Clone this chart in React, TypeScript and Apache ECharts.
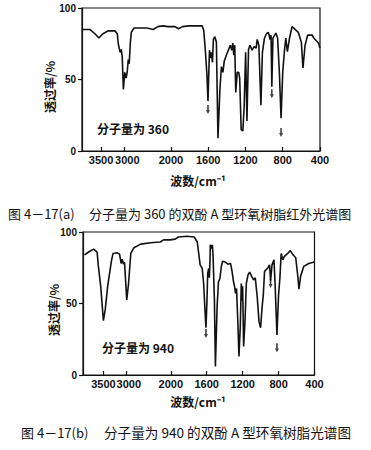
import React, { useEffect, useRef } from "react";
import * as echarts from "echarts";

// wavenumber (cm^-1) tick labels and transmittance ticks
const X_TICKS = [3500, 3000, 2000, 1600, 1200, 800, 400];
const Y_TICKS = [0, 50, 100];

// spectrum (a): molecular weight 360 — [wavenumber, transmittance %]
const specA: [number, number][] = [
  [3905, 85], [3740, 85], [3630, 82], [3545, 79], [3460, 82], [3350, 84], [3200, 84], [3150, 82],
  [3130, 75], [3090, 69], [3065, 71], [3045, 66], [3020, 43], [2990, 55], [2960, 51], [2935, 56],
  [2915, 64], [2895, 61], [2870, 76], [2850, 83], [2790, 86], [2660, 86], [2510, 86], [2380, 85],
  [2280, 87], [2170, 87.5], [2065, 87], [1955, 87], [1920, 85.5], [1875, 87], [1805, 87.5],
  [1725, 87.5], [1665, 87.5], [1648, 84.5], [1630, 70], [1613, 53], [1602, 35], [1591, 60],
  [1586, 70.5], [1576, 65], [1565, 69], [1554, 62], [1544, 78], [1528, 80], [1512, 76], [1495, 9],
  [1474, 43], [1458, 59], [1442, 55], [1427, 63], [1405, 67], [1384, 70.5], [1363, 74], [1347, 70.5],
  [1336, 75.5], [1325, 67], [1315, 74], [1304, 41], [1288, 55], [1272, 55], [1262, 51], [1246, 15],
  [1228, 14], [1214, 31], [1198, 69], [1184, 21], [1167, 71], [1151, 74], [1129, 70.5], [1107, 73],
  [1085, 72], [1074, 78], [1056, 74], [1034, 32], [1018, 69], [996, 79], [974, 82], [953, 83],
  [936, 78], [925, 81], [917, 45], [905, 79], [874, 82.5], [855, 79], [836, 55], [818, 23],
  [800, 55], [783, 69], [767, 79], [750, 69.5], [727, 79], [700, 87], [667, 85], [633, 83],
  [600, 76], [583, 58], [560, 74], [533, 81], [483, 81], [467, 79], [417, 75.5], [400, 72],
];

// spectrum (b): molecular weight 940 — [wavenumber, transmittance %]
const specB: [number, number][] = [
  [3920, 84], [3830, 86], [3715, 88], [3640, 86], [3615, 77], [3560, 62], [3500, 38], [3460, 45.5],
  [3405, 62], [3320, 80], [3285, 85], [3200, 85.5], [3140, 84.5], [3105, 78], [3080, 81], [3055, 77.5],
  [3030, 79], [2980, 52.5], [2940, 64], [2890, 85], [2820, 89], [2670, 91.5], [2450, 92.5], [2235, 93],
  [2160, 94.5], [2015, 94.5], [1950, 95], [1915, 96.5], [1820, 97], [1740, 96.5], [1705, 93],
  [1673, 77], [1650, 74.5], [1634, 64], [1619, 45], [1608, 33], [1597, 52], [1589, 71], [1578, 74.5],
  [1571, 68], [1563, 80], [1560, 91], [1545, 88.5], [1537, 91], [1529, 83], [1514, 52], [1503, 6],
  [1484, 48], [1469, 65], [1453, 67.5], [1438, 75.5], [1424, 79.5], [1394, 79], [1364, 77.5],
  [1335, 78], [1319, 73], [1301, 65], [1290, 62], [1279, 57], [1268, 60.5], [1252, 35], [1241, 13],
  [1226, 34], [1215, 64], [1207, 52], [1200, 62], [1189, 20], [1173, 38.5], [1159, 64], [1140, 70],
  [1122, 72], [1095, 68.5], [1078, 66.5], [1059, 68], [1037, 54], [1018, 37.5], [1000, 33], [984, 47],
  [970, 56], [956, 72.5], [918, 75], [900, 77], [889, 66], [873, 77], [851, 80.5], [837, 61],
  [818, 28], [800, 56], [785, 68], [771, 85], [752, 80.5], [735, 83], [698, 85], [670, 87],
  [644, 84.5], [609, 82], [584, 68], [573, 60], [555, 69], [519, 76], [465, 78], [400, 79],
];

// arrow markers under selected bands
const arrowsA: [number, number][] = [[1602, 29], [917, 40], [818, 13]];
const arrowsB: [number, number][] = [[1608, 29], [889, 64], [818, 19]];

const captionNoA = "图 4－17(a)";
const captionA = "分子量为 360 的双酚 A 型环氧树脂红外光谱图";
const captionNoB = "图 4－17(b)";
const captionB = "分子量为 940 的双酚 A 型环氧树脂光谱图";
const labelA = "分子量为 360";
const labelB = "分子量为 940";
const yName = "透过率/%";
const xName = "波数/cm⁻¹";

// IR chart scale halves above 2000 cm^-1
const toU = (v: number) => (v > 2000 ? 2000 + (v - 2000) / 2 : v);
const fromU = (u: number) => (u > 2000 ? 2000 + (u - 2000) * 2 : u);

const INK = "#111";
const NUM_FONT = "'Liberation Sans', Arial, sans-serif";
const CJK_FONT = "'Noto Sans CJK SC', sans-serif";

const labelFont = { fontSize: 11, fontWeight: "bold", color: INK, fontFamily: NUM_FONT };

function xAxisFor(gridIndex: number, maxWave: number, ticks: number[], showLine: boolean) {
  const vals = ticks.map(toU);
  return {
    type: "value",
    gridIndex,
    position: "bottom",
    inverse: true,
    min: 400,
    max: toU(maxWave),
    axisLine: { show: showLine, lineStyle: { color: INK, width: 1.2 } },
    axisTick: { show: true, inside: true, length: 4, customValues: vals, lineStyle: { color: INK, width: 1.2 } },
    axisLabel: {
      customValues: vals,
      hideOverlap: false,
      formatter: (u: number) => {
        const v = Math.round(fromU(u));
        return v === 3000 ? `{s|${v}}` : String(v);
      },
      ...labelFont,
      margin: 3,
      rich: { s: { ...labelFont, padding: [0, 0, 0, 6] } },
    },
    splitLine: { show: false },
  };
}

function yAxisFor(gridIndex: number) {
  return {
    type: "value",
    gridIndex,
    min: 0,
    max: 100,
    interval: 50,
    axisLine: { show: true, lineStyle: { color: INK, width: 1.2 } },
    axisTick: { show: true, length: 4, customValues: Y_TICKS, lineStyle: { color: INK, width: 1.2 } },
    axisLabel: { customValues: Y_TICKS, fontSize: 10, fontWeight: "bold", color: INK, margin: 6, fontFamily: NUM_FONT },
    splitLine: { show: false },
  };
}

function textEl(text: string, x: number, y: number, opts: any = {}) {
  const align = opts.align || "left";
  return {
    type: "text",
    x,
    y,
    rotation: opts.rotation || 0,
    style: {
      text,
      fill: INK,
      fontSize: opts.fontSize || 12,
      fontWeight: opts.fontWeight || "normal",
      fontFamily: opts.fontFamily || CJK_FONT,
      textAlign: align,
      align,
      textVerticalAlign: "middle",
      verticalAlign: "middle",
    },
  };
}

export default function App() {
  const ref = useRef<HTMLDivElement>(null);
  useEffect(() => {
    if (!ref.current) return;
    const chart = echarts.init(ref.current, null, { renderer: "svg" });
    const arrowSymbol = "path://M3,0 L7,0 L7,9 L10,9 L5,16 L0,9 L3,9 Z";
    const mainTicks = X_TICKS.filter((v) => v !== 3500);
    const sideTicks = X_TICKS.filter((v) => v === 3500);
    chart.setOption({
      animation: false,
      backgroundColor: "#fff",
      grid: [
        { left: 82, top: 8, width: 238, height: 143, show: true, borderColor: INK, borderWidth: 1.2, backgroundColor: "transparent" },
        { left: 83, top: 232, width: 231.5, height: 143, show: true, borderColor: INK, borderWidth: 1.2, backgroundColor: "transparent" },
      ],
      xAxis: [
        xAxisFor(0, 3908, mainTicks, true),
        xAxisFor(1, 3954, mainTicks, true),
        xAxisFor(0, 3908, sideTicks, false),
        xAxisFor(1, 3954, sideTicks, false),
      ],
      yAxis: [yAxisFor(0), yAxisFor(1)],
      series: [
        {
          type: "line",
          xAxisIndex: 0,
          yAxisIndex: 0,
          data: specA.map(([v, t]) => [toU(v), t]),
          showSymbol: false,
          lineStyle: { color: INK, width: 1.6 },
        },
        {
          type: "line",
          xAxisIndex: 1,
          yAxisIndex: 1,
          data: specB.map(([v, t]) => [toU(v), t]),
          showSymbol: false,
          lineStyle: { color: INK, width: 1.6 },
        },
        {
          type: "scatter",
          xAxisIndex: 0,
          yAxisIndex: 0,
          data: arrowsA.map(([v, t]) => [toU(v), t]),
          symbol: arrowSymbol,
          symbolSize: [4, 9],
          itemStyle: { color: INK },
        },
        {
          type: "scatter",
          xAxisIndex: 1,
          yAxisIndex: 1,
          data: arrowsB.map(([v, t]) => [toU(v), t]),
          symbol: arrowSymbol,
          symbolSize: [4, 9],
          itemStyle: { color: INK },
        },
      ],
      graphic: [
        textEl(yName, 49, 87, { rotation: Math.PI / 2, align: "center", fontWeight: "bold", fontSize: 12 }),
        textEl(yName, 53, 310, { rotation: Math.PI / 2, align: "center", fontWeight: "bold", fontSize: 12 }),
        textEl(xName, 198, 180, { align: "center", fontWeight: "bold", fontSize: 12 }),
        textEl(xName, 198, 401, { align: "center", fontWeight: "bold", fontSize: 12 }),
        textEl(labelA, 97, 128, { fontWeight: "bold", fontSize: 12 }),
        textEl(labelB, 102, 347, { fontWeight: "bold", fontSize: 12 }),
        textEl(captionNoA, 8, 213, { fontSize: 13 }),
        textEl(captionA, 89, 213, { fontSize: 13 }),
        textEl(captionNoB, 21, 432, { fontSize: 13 }),
        textEl(captionB, 104, 432, { fontSize: 13.6 }),
      ],
    });
    return () => chart.dispose();
  }, []);
  return (
    <div
      ref={ref}
      style={{ position: "absolute", left: 0, top: 0, width: 371, height: 450, background: "#fff" }}
    />
  );
}
